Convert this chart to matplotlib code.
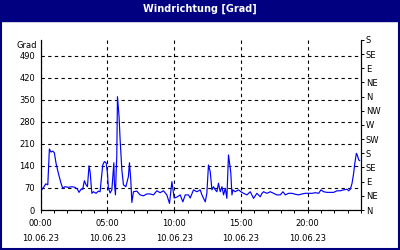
import matplotlib
matplotlib.use("Agg")
import matplotlib.pyplot as plt
from matplotlib.patches import Rectangle
from matplotlib.ticker import MultipleLocator, FixedLocator

TITLE = "Windrichtung [Grad]"
DATE_LABEL = "10.06.23"
TIME_LABELS = ["00:00", "05:00", "10:00", "15:00", "20:00"]
LEFT_TICKS = [0, 70, 140, 210, 280, 350, 420, 490]
RIGHT_TICKS = [0, 45, 90, 135, 180, 225, 270, 315, 360, 405, 450, 495, 540]
RIGHT_LABELS = ["N", "NE", "E", "SE", "S", "SW", "W", "NW", "N", "NE", "E", "SE", "S"]

hours = [
    0.0, 0.08, 0.25, 0.38, 0.53, 0.65, 0.77, 0.9, 1.02, 1.15, 1.32, 1.52, 1.65, 1.82,
    2.07, 2.33, 2.57, 2.75, 2.87, 3.02, 3.15, 3.27, 3.4, 3.5, 3.62, 3.7, 3.83, 3.95,
    4.15, 4.32, 4.45, 4.52, 4.65, 4.77, 4.9, 5.0, 5.07, 5.2, 5.33, 5.4, 5.48, 5.52,
    5.6, 5.65, 5.7, 5.75, 5.87, 5.95, 6.08, 6.2, 6.38, 6.57, 6.65, 6.75, 6.83, 6.95,
    7.2, 7.45, 7.7, 7.95, 8.2, 8.45, 8.7, 8.95, 9.2, 9.45, 9.65, 9.83, 10.0, 10.2,
    10.45, 10.65, 10.83, 11.07, 11.2, 11.45, 11.7, 11.95, 12.08, 12.33, 12.45, 12.57,
    12.7, 12.83, 12.95, 13.08, 13.2, 13.32, 13.45, 13.58, 13.7, 13.83, 13.95, 14.07,
    14.24, 14.33, 14.4, 14.57, 14.82, 15.0, 15.2, 15.45, 15.7, 15.95, 16.2, 16.45,
    16.58, 16.7, 16.95, 17.2, 17.45, 17.7, 17.95, 18.15, 18.33, 18.57, 18.83, 19.08,
    19.33, 19.58, 19.83, 20.08, 20.33, 20.58, 20.83, 21.0, 21.2, 21.45, 21.7, 21.95,
    22.2, 22.45, 22.7, 22.95, 23.08, 23.2, 23.33, 23.45, 23.52, 23.65, 23.72, 23.83, 23.9,
]
grad = [
    62, 64, 74, 83, 80, 194, 184, 187, 182, 148, 117, 85, 69, 74,
    72, 74, 72, 66, 56, 66, 66, 93, 80, 74, 140, 122, 53, 58,
    53, 60, 58, 90, 143, 154, 150, 117, 70, 54, 64, 106, 150, 85,
    48, 117, 170, 360, 297, 223, 127, 80, 74, 106, 150, 95, 24, 58,
    60, 48, 45, 51, 51, 48, 61, 55, 61, 48, 21, 90, 38, 41,
    48, 26, 48, 48, 38, 64, 58, 64, 48, 26, 53, 143,
    122, 64, 74, 64, 58, 85, 58, 74, 48, 69, 37, 175,
    120, 48, 64, 58, 64, 58, 53, 48, 58, 37, 53, 42,
    53, 58, 53, 58, 53, 48, 48, 58, 48, 53, 53, 50,
    48, 51, 53, 53, 53, 55, 53, 64, 58, 56, 56, 56,
    61, 61, 64, 66, 61, 66, 85, 117, 143, 180, 175, 159, 157,
]

NAVY = "#000080"

fig = plt.figure(figsize=(4.0, 2.5), dpi=100)
fig.patch.set_facecolor("white")
# title bar and frame
fig.patches.append(Rectangle((0, 0.918), 1, 0.082, transform=fig.transFigure, color=NAVY, zorder=0))
fig.patches.append(Rectangle((0.0015, 0.004), 0.997, 0.99, transform=fig.transFigure,
                             fill=False, edgecolor=NAVY, linewidth=1.5, zorder=0))
fig.text(0.5, 0.966, TITLE, color="white", fontsize=7, fontweight="bold", ha="center", va="center")

ax = fig.add_axes([0.1018, 0.16, 0.8007, 0.68])
ax.plot(hours, grad, color="#0000ff", linewidth=0.85, zorder=3)
ax.set_xlim(0, 24)
ax.set_ylim(0, 540)

ax.spines["top"].set_visible(False)
for side in ("left", "right", "bottom"):
    ax.spines[side].set_linewidth(0.8)

ax.set_yticks(LEFT_TICKS)
ax.set_yticklabels([str(v) for v in LEFT_TICKS])
ax.tick_params(axis="y", which="both", length=0, pad=4, labelsize=6)

ax.xaxis.set_major_locator(FixedLocator([0, 5, 10, 15, 20]))
ax.set_xticklabels([f"{t}\n{DATE_LABEL}" for t in TIME_LABELS])
ax.xaxis.set_minor_locator(MultipleLocator(1))
ax.tick_params(axis="x", which="both", direction="out", length=2.5, width=0.7, labelsize=6, pad=4)
for label in ax.get_xticklabels():
    label.set_linespacing(1.9)

ax.grid(True, which="major", color="black", linestyle=(0, (3, 3)), linewidth=0.8)

axr = ax.twinx()
axr.set_ylim(0, 540)
axr.set_yticks(RIGHT_TICKS)
axr.set_yticklabels(RIGHT_LABELS)
axr.tick_params(axis="y", direction="out", length=2.5, width=0.7, pad=1, labelsize=6)
axr.spines["top"].set_visible(False)
axr.spines["right"].set_linewidth(0.8)

fig.text(0.092, 0.82, "Grad", fontsize=6, ha="right", va="center")

fig.savefig("out.png", dpi=100, facecolor=fig.get_facecolor())
